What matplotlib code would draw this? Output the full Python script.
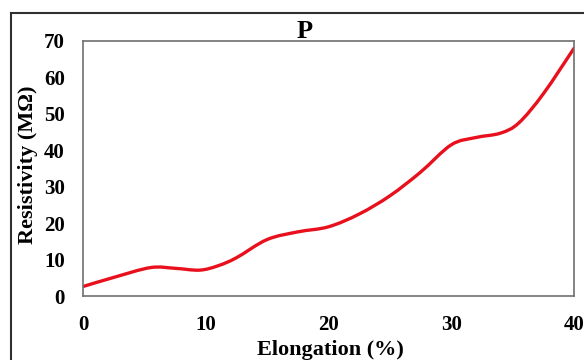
import numpy as np
import matplotlib
matplotlib.use('agg')
from matplotlib import pyplot as plt
from matplotlib.lines import Line2D
from matplotlib.path import Path
from matplotlib.patches import PathPatch

# values
elong = [0, 2.5, 5.5, 7.5, 9.5, 11, 12.5, 15, 17.5, 20, 22.5, 25, 27.5, 30, 32, 34, 35.5, 37.5, 40]
resist = [2.6, 5.1, 7.8, 7.6, 7.1, 8.3, 10.5, 15.5, 17.6, 19.0, 22.5, 27.5, 34.0, 41.5, 43.5, 44.7, 47.5, 55.5, 68.0]
xticks = [0, 10, 20, 30, 40]
yticks = [0, 10, 20, 30, 40, 50, 60, 70]

plt.rcParams['font.family'] = ['Liberation Serif', 'DejaVu Serif']
plt.rcParams['font.weight'] = 'bold'

W, H = 584, 360
fig = plt.figure(figsize=(W/100, H/100), dpi=100)
ax = fig.add_axes([83/W, 1-296/H, (574-83)/W, (296-41)/H])


def smooth_path(xs, ys, t=1/6):
    # Excel-style smoothed line: cubic bezier through the points (Catmull-Rom handles)
    p = np.column_stack([xs, ys]).astype(float)
    verts = [p[0]]
    codes = [Path.MOVETO]
    n = len(p)
    for i in range(n - 1):
        p0 = p[i - 1] if i > 0 else p[i]
        p3 = p[i + 2] if i + 2 < n else p[i + 1]
        c1 = p[i] + (p[i + 1] - p0) * t
        c2 = p[i + 1] - (p3 - p[i]) * t
        verts += [c1, c2, p[i + 1]]
        codes += [Path.CURVE4] * 3
    return Path(verts, codes)


ax.add_patch(PathPatch(smooth_path(elong, resist), facecolor='none',
                       edgecolor='#e8101c', lw=2.4, capstyle='round'))
ax.set_xlim(0, 40)
ax.set_ylim(0, 70)
ax.set_xticks(xticks)
ax.set_yticks(yticks)
ax.tick_params(length=0, labelsize=15)
ax.tick_params(axis='y', pad=13)
ax.tick_params(axis='x', pad=14)
for lab in ax.get_xticklabels() + ax.get_yticklabels():
    lab.set_fontweight('bold')
for s in ax.spines.values():
    s.set_color('#707070')
    s.set_linewidth(1.2)

fig.text(305/W, 1-31/H, 'P', ha='center', va='center', fontsize=19, fontweight='bold')
fig.text(330/W, 1-350/H, 'Elongation (%)', ha='center', va='center', fontsize=16, fontweight='bold')
fig.text(28/W, 1-165/H, 'Resistivity (M\u03a9)', ha='center', va='center', rotation=90,
         fontsize=16, fontweight='bold')

# outer frame (cut by the image edge on right and bottom)
fig.add_artist(Line2D([11/W, 1.0], [1-13/H, 1-13/H], color='#303030', lw=1.5, transform=fig.transFigure))
fig.add_artist(Line2D([11/W, 11/W], [0.0, 1-13/H], color='#303030', lw=1.5, transform=fig.transFigure))

fig.savefig('out.png', dpi=100)
